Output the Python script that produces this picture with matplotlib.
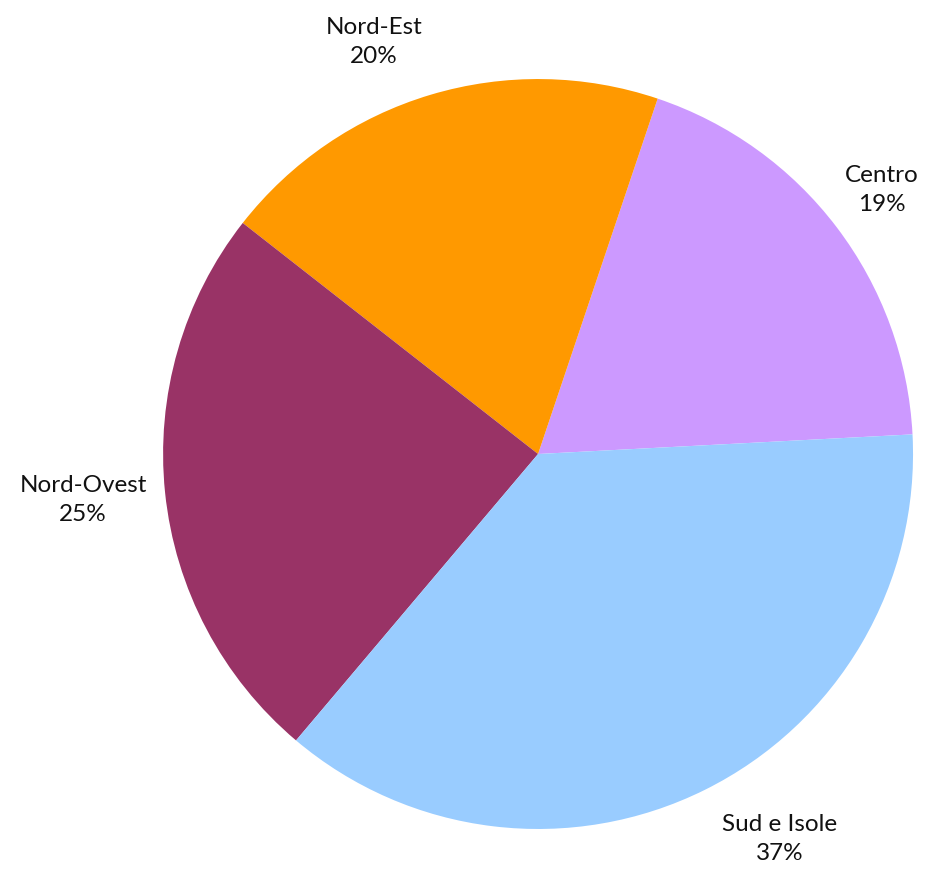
import matplotlib
matplotlib.use("Agg")
import matplotlib.pyplot as plt

regions = ["Centro", "Nord-Est", "Nord-Ovest", "Sud e Isole"]
shares = [19.0, 19.6, 24.4, 37.0]
pct_labels = ["19%", "20%", "25%", "37%"]
colors = ["#CC99FF", "#FF9900", "#993366", "#99CCFF"]

# label centres in pie units (radius = 1)
label_pos = [(0.917, 0.707), (-0.437, 1.101), (-1.213, -0.120), (0.645, -1.024)]

plt.rcParams['font.family'] = ['Lato', 'DejaVu Sans']

fig = plt.figure(figsize=(9.33, 8.7), dpi=100)
ax = fig.add_axes([0.1747, 0.046, 0.804, 0.862])

wedges, _ = ax.pie(shares, colors=colors, startangle=3, counterclock=True,
                   wedgeprops=dict(linewidth=0))

for r, p, (x, y) in zip(regions, pct_labels, label_pos):
    ax.text(x, y, r + "\n" + p, ha="center", va="center", fontsize=17.5,
            color="#111111", linespacing=1.45, clip_on=False)

ax.set_xlim(-1, 1)
ax.set_ylim(-1, 1)
ax.set_aspect("equal")

fig.savefig("out.png", dpi=100)
